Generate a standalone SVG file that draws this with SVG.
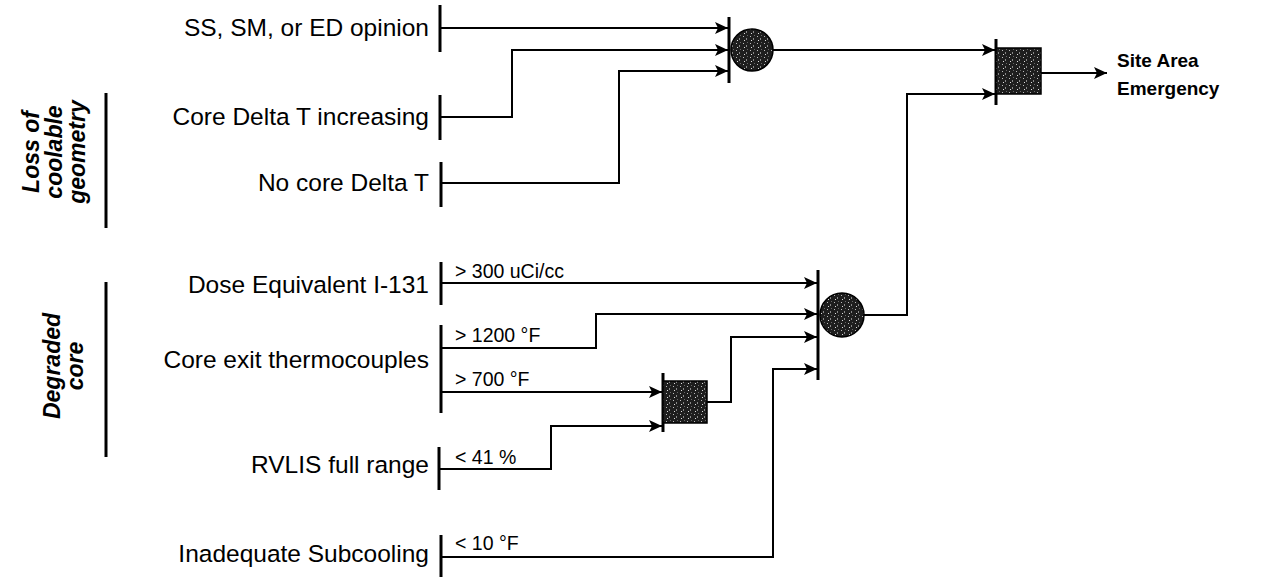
<svg xmlns="http://www.w3.org/2000/svg" width="1280" height="577" viewBox="0 0 1280 577">
<defs>
<marker id="arr" markerUnits="userSpaceOnUse" markerWidth="13" markerHeight="12" refX="13" refY="6" orient="auto">
<path d="M0,0 L13,6 L0,12 L3,6 z" fill="#000"/>
</marker>
<pattern id="tex" width="7" height="7" patternUnits="userSpaceOnUse">
<rect width="7" height="7" fill="#1e1e1e"/>
<rect x="1" y="1" width="1" height="1" fill="#bbb"/>
<rect x="4" y="3" width="1" height="2" fill="#888"/>
<rect x="2" y="5" width="1" height="1" fill="#ddd"/>
<rect x="5" y="0" width="1" height="1" fill="#666"/>
</pattern>
<style>
.lbl{font-family:"Liberation Sans",Arial,sans-serif;font-size:24.5px;fill:#000;text-anchor:end}
.sm{font-family:"Liberation Sans",Arial,sans-serif;font-size:19.5px;fill:#000}
.cat{font-family:"Liberation Sans",Arial,sans-serif;font-size:23px;font-weight:bold;font-style:italic;fill:#000;text-anchor:middle}
.out{font-family:"Liberation Sans",Arial,sans-serif;font-size:19px;font-weight:bold;fill:#000}
.bar{stroke:#000;stroke-width:3;fill:none}
.wire{stroke:#000;stroke-width:2;fill:none}
.gate{fill:url(#tex);stroke:#000;stroke-width:1.5}
</style>
</defs>
<rect width="1280" height="577" fill="#fff"/>

<g id="cat-loss">
<line class="bar" x1="106" y1="93" x2="106" y2="228"/>
<text class="cat" transform="translate(39,152) rotate(-90)">Loss of</text>
<text class="cat" transform="translate(62,152) rotate(-90)">coolable</text>
<text class="cat" transform="translate(85,152) rotate(-90)">geometry</text>
</g>
<g id="cat-degraded">
<line class="bar" x1="106" y1="282" x2="106" y2="457"/>
<text class="cat" transform="translate(60,366) rotate(-90)">Degraded</text>
<text class="cat" transform="translate(83,366) rotate(-90)">core</text>
</g>

<g id="in-opinion">
<text class="lbl" x="429" y="36">SS, SM, or ED opinion</text>
<line class="bar" x1="440" y1="5" x2="440" y2="52"/>
</g>
<g id="in-dt-increasing">
<text class="lbl" x="429" y="125">Core Delta T increasing</text>
<line class="bar" x1="440" y1="95" x2="440" y2="140"/>
</g>
<g id="in-no-dt">
<text class="lbl" x="429" y="191">No core Delta T</text>
<line class="bar" x1="441" y1="162" x2="441" y2="207"/>
</g>
<g id="in-dose">
<text class="lbl" x="429" y="293">Dose Equivalent I-131</text>
<line class="bar" x1="441" y1="262" x2="441" y2="305"/>
</g>
<g id="in-cet">
<text class="lbl" x="429" y="368">Core exit thermocouples</text>
<line class="bar" x1="441" y1="325" x2="441" y2="413"/>
</g>
<g id="in-rvlis">
<text class="lbl" x="429" y="473">RVLIS full range</text>
<line class="bar" x1="439" y1="447" x2="439" y2="490"/>
</g>
<g id="in-subcool">
<text class="lbl" x="429" y="562">Inadequate Subcooling</text>
<line class="bar" x1="441" y1="535" x2="441" y2="577"/>
</g>

<g id="gate1">
<line class="bar" x1="729" y1="17" x2="729" y2="83"/>
<circle class="gate" cx="752" cy="50" r="21"/>
</g>
<g id="gate2">
<line class="bar" x1="996" y1="39" x2="996" y2="105"/>
<rect class="gate" x="996" y="48" width="45" height="46"/>
</g>
<g id="gate3">
<line class="bar" x1="818" y1="270" x2="818" y2="380"/>
<circle class="gate" cx="842" cy="315" r="22"/>
</g>
<g id="gate4">
<line class="bar" x1="663" y1="373" x2="663" y2="432"/>
<rect class="gate" x="663" y="381" width="44" height="42"/>
</g>

<g id="out-sae">
<text class="out" x="1117" y="67">Site Area</text>
<text class="out" x="1117" y="95">Emergency</text>
</g>

<g id="connectors">
<polyline class="wire" points="440,28 728,28" marker-end="url(#arr)"/>
<polyline class="wire" points="440,117 512,117 512,50 728,50" marker-end="url(#arr)"/>
<polyline class="wire" points="441,183 619,183 619,71 728,71" marker-end="url(#arr)"/>
<polyline class="wire" points="773,50 995,50" marker-end="url(#arr)"/>
<polyline class="wire" points="864,315 907,315 907,94 995,94" marker-end="url(#arr)"/>
<polyline class="wire" points="1041,73 1107,73" marker-end="url(#arr)"/>
<polyline class="wire" points="441,283 817,283" marker-end="url(#arr)"/>
<polyline class="wire" points="441,348 596,348 596,314 817,314" marker-end="url(#arr)"/>
<polyline class="wire" points="441,392 662,392" marker-end="url(#arr)"/>
<polyline class="wire" points="439,469 551,469 551,426 662,426" marker-end="url(#arr)"/>
<polyline class="wire" points="707,402 731,402 731,337 817,337" marker-end="url(#arr)"/>
<polyline class="wire" points="441,557 773,557 773,369 817,369" marker-end="url(#arr)"/>
<text class="sm" x="455" y="278">&gt; 300 uCi/cc</text>
<text class="sm" x="455" y="342">&gt; 1200 °F</text>
<text class="sm" x="455" y="386">&gt; 700 °F</text>
<text class="sm" x="455" y="464">&lt; 41 %</text>
<text class="sm" x="455" y="550">&lt; 10 °F</text>
</g>
</svg>
